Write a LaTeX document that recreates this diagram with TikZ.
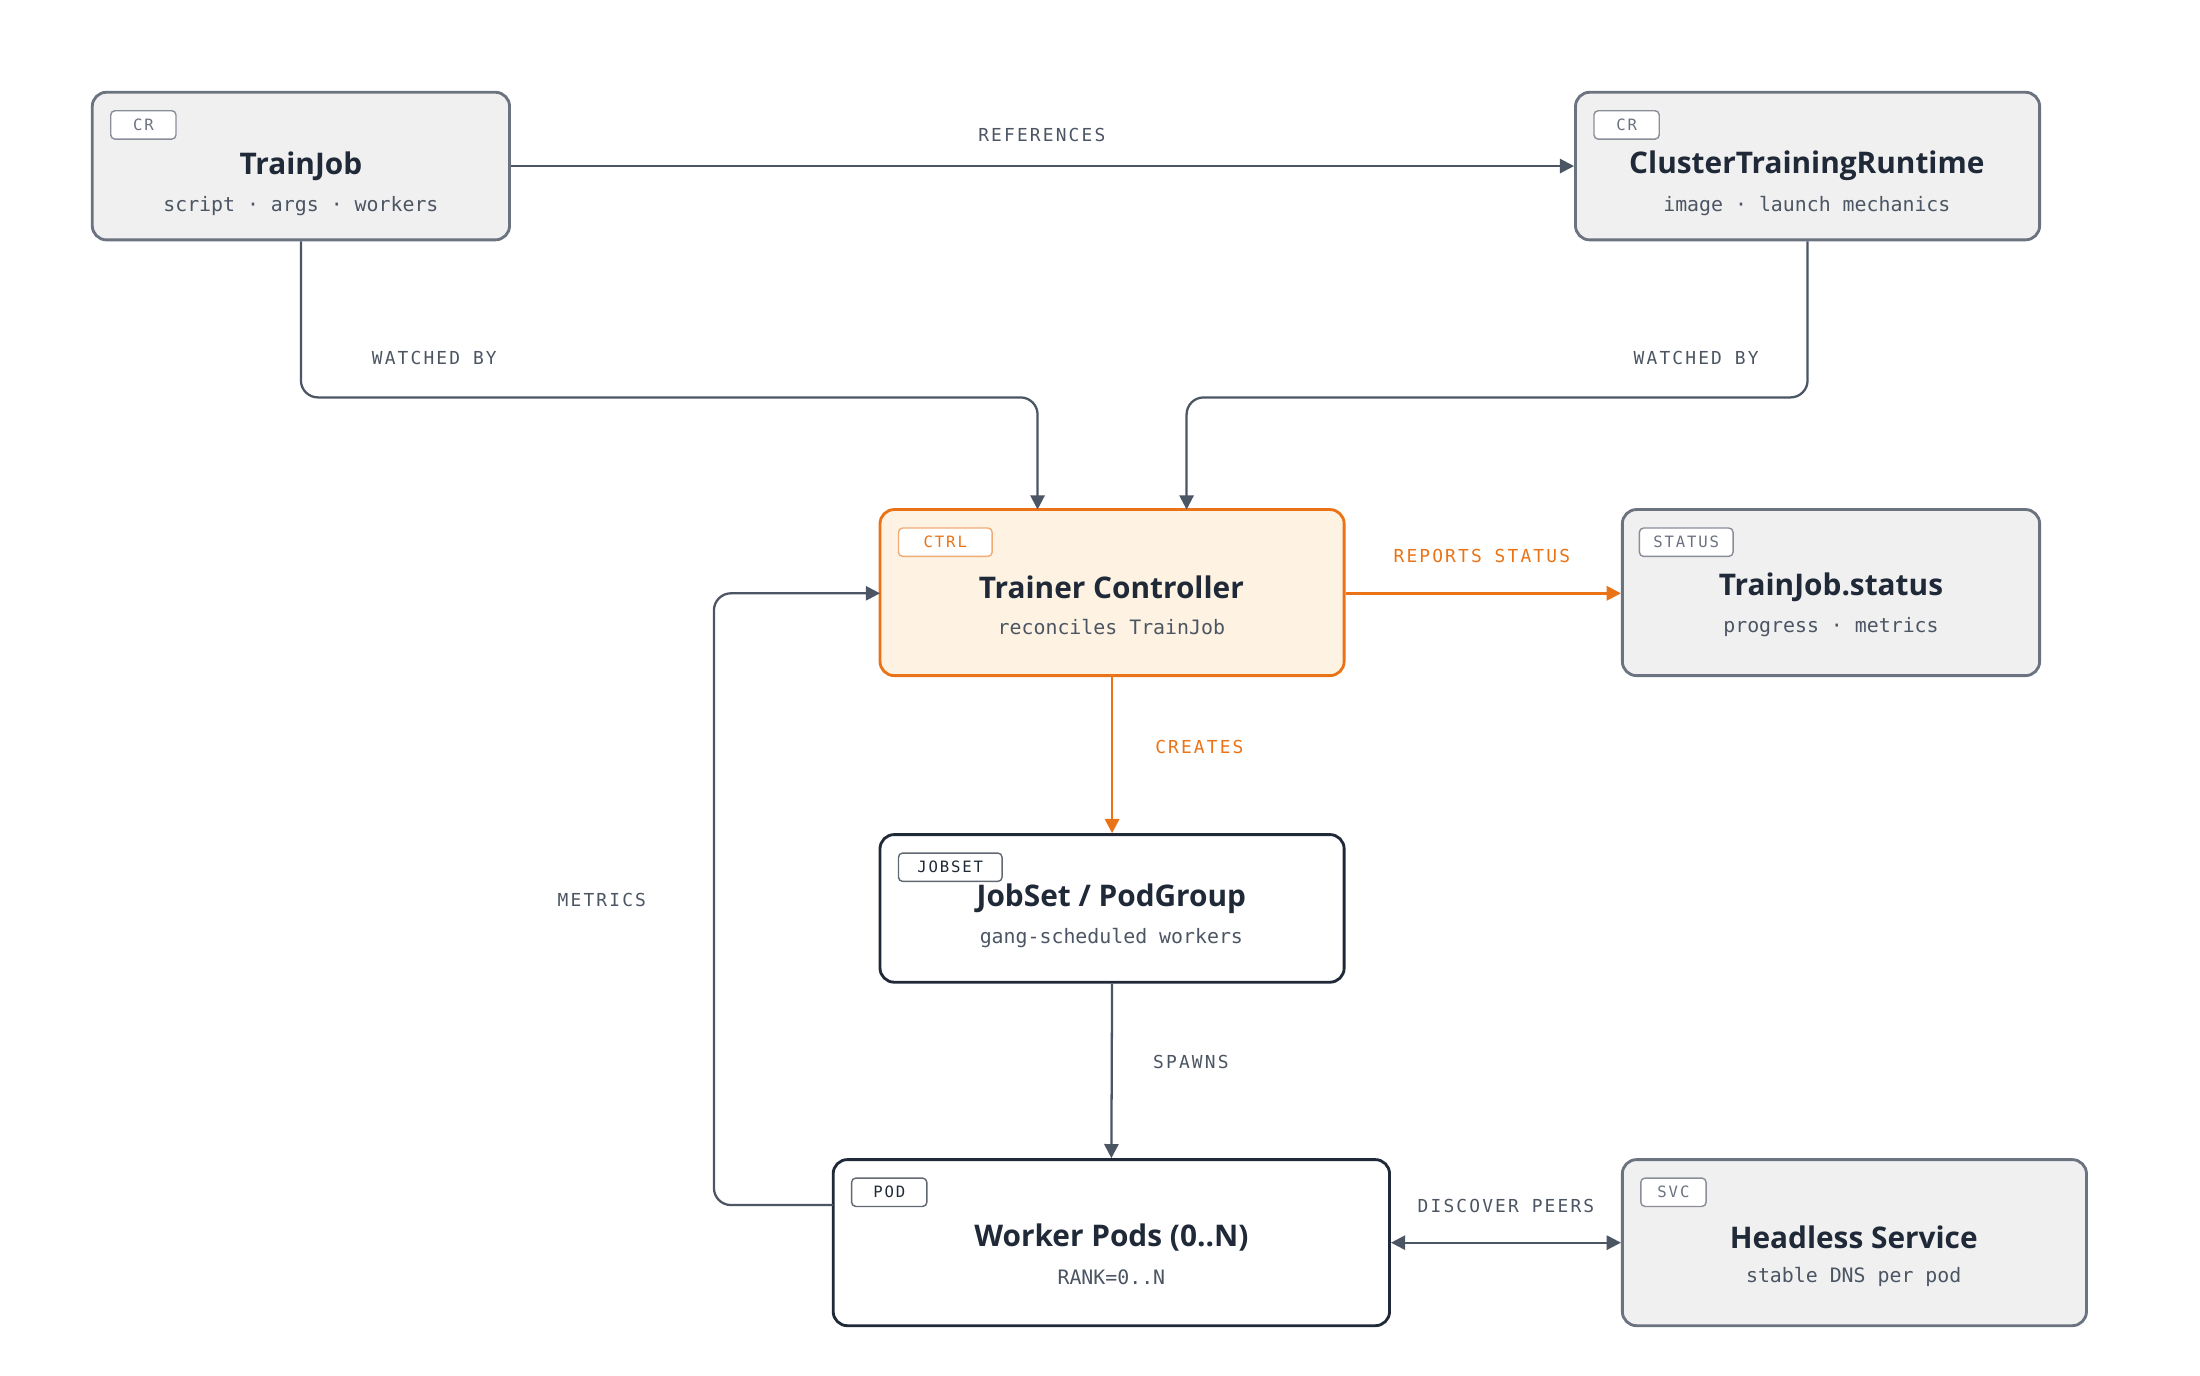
\documentclass[tikz,border=0pt]{standalone}
\usepackage{fontspec}
\setmainfont{Open Sans}
\setmonofont{DejaVu Sans Mono}
\usetikzlibrary{arrows.meta}
\definecolor{ink}{HTML}{1F2937}
\definecolor{edge}{HTML}{4B5563}
\definecolor{gborder}{HTML}{6B7280}
\definecolor{gfill}{HTML}{F0F0F0}
\definecolor{org}{HTML}{EA7317}
\definecolor{ofill}{HTML}{FEF3E2}
\definecolor{sub}{HTML}{4B5563}
\tikzset{
 gbox/.style={draw=gborder,fill=gfill,line width=1pt,rounded corners=5pt},
 wbox/.style={draw=ink,fill=white,line width=1pt,rounded corners=5pt},
 obox/.style={draw=org,fill=ofill,line width=1pt,rounded corners=5pt},
 badge/.style={draw=gborder!80,fill=white,line width=0.5pt,rounded corners=1.5pt,inner sep=0pt,font=\ttfamily\fontsize{5.5}{6}\selectfont,text=gborder},
 ttl/.style={font=\bfseries\fontsize{10.5}{12}\selectfont,text=ink},
 sbt/.style={font=\ttfamily\fontsize{7}{8}\selectfont,text=sub},
 lbl/.style={font=\ttfamily\fontsize{6.3}{7}\selectfont,text=sub},
 ar/.style={draw=edge,line width=0.8pt,-{Triangle[length=5pt,width=5pt]},rounded corners=6pt},
 oar/.style={draw=org,line width=0.9pt,-{Triangle[length=5pt,width=5pt]}},
}
\newcommand{\spc}[1]{\addfontfeature{LetterSpace=12}#1}
\begin{document}
\begin{tikzpicture}[x=0.5pt,y=-0.5pt]
\useasboundingbox (0,0) rectangle (1550,969);
% boxes
\node[gbox,minimum width=147pt,minimum height=52pt] (tj) at (212,117) {};
\node[gbox,minimum width=163.5pt,minimum height=52pt] (ctr) at (1273.5,117) {};
\node[obox,minimum width=163.5pt,minimum height=58.5pt] (tc) at (783.5,417.5) {};
\node[gbox,minimum width=147pt,minimum height=58.5pt] (st) at (1290,417.5) {};
\node[wbox,minimum width=163.5pt,minimum height=52pt] (js) at (783.5,640) {};
\node[wbox,minimum width=196pt,minimum height=58.5pt] (wp) at (783,875.5) {};
\node[gbox,minimum width=163.5pt,minimum height=58.5pt] (hs) at (1306.5,875.5) {};
% badges
\node[badge,minimum width=23pt,minimum height=10pt] (b1) at (101,88) {\spc{CR}};
\node[badge,minimum width=23pt,minimum height=10pt] (b2) at (1146,88) {\spc{CR}};
\node[badge,draw=org!60,text=org,minimum width=33pt,minimum height=10pt] (b3) at (666,382) {\spc{CTRL}};
\node[badge,minimum width=33pt,minimum height=10pt] (b4) at (1188,382) {\spc{STATUS}};
\node[badge,draw=ink!70,text=ink,minimum width=36.5pt,minimum height=10pt] (b5) at (669.5,611) {\spc{JOBSET}};
\node[badge,draw=ink!70,text=ink,minimum width=26.5pt,minimum height=10pt] (b6) at (626.5,840) {\spc{POD}};
\node[badge,minimum width=23pt,minimum height=10pt] (b7) at (1179,840) {\spc{SVC}};
% texts
\node[ttl] (t1) at (212,117) {TrainJob};
\node[sbt] (s1) at (212,145) {script · args · workers};
\node[ttl] (t2) at (1273,117) {ClusterTrainingRuntime};
\node[sbt] (s2) at (1273,145) {image · launch mechanics};
\node[ttl] (t3) at (783,414) {Trainer Controller};
\node[sbt] (s3) at (783,442) {reconciles TrainJob};
\node[ttl] (t4) at (1290,414) {TrainJob.status};
\node[sbt] (s4) at (1290,442) {progress · metrics};
\node[ttl] (t5) at (783,633) {JobSet / PodGroup};
\node[sbt] (s5) at (783,661) {gang-scheduled workers};
\node[ttl] (t6) at (783,872) {Worker Pods (0..N)};
\node[sbt] (s6) at (783,900) {RANK=0..N};
\node[ttl] (t7) at (1306,872) {Headless Service};
\node[sbt] (s7) at (1306,900) {stable DNS per pod};
% coordinates
\coordinate (c1) at (731,359);
\coordinate (c2) at (836,359);
\coordinate (c3) at (620,418);
% edges
\draw[ar] (tj.east) -- (ctr.west);
\draw[ar] (tj.south) |- (472,280) -| (c1);
\draw[ar] (ctr.south) |- (1050,280) -| (c2);
\draw[oar] (tc.east |- c3) -- (st.west |- c3);
\draw[oar] (tc.south) -- (js.north);
\draw[ar] (js.south) -- (wp.north);
\draw[ar] (587,849) -- (503,849) -- (503,418) -- (c3);
\draw[draw=edge,line width=0.8pt,{Triangle[length=5pt,width=5pt]}-{Triangle[length=5pt,width=5pt]}] (wp.east) -- (hs.west);
% labels
\node[lbl] (l1) at (734,95) {\spc{REFERENCES}};
\node[lbl] (l2) at (306,252) {\spc{WATCHED BY}};
\node[lbl] (l3) at (1195,252) {\spc{WATCHED BY}};
\node[lbl,text=org] (l4) at (1044,392) {\spc{REPORTS STATUS}};
\node[lbl,text=org] (l5) at (845,526) {\spc{CREATES}};
\node[lbl] (l6) at (839,748) {\spc{SPAWNS}};
\node[lbl] (l7) at (424,634) {\spc{METRICS}};
\node[lbl] (l8) at (1061,850) {\spc{DISCOVER PEERS}};
\end{tikzpicture}
\end{document}
